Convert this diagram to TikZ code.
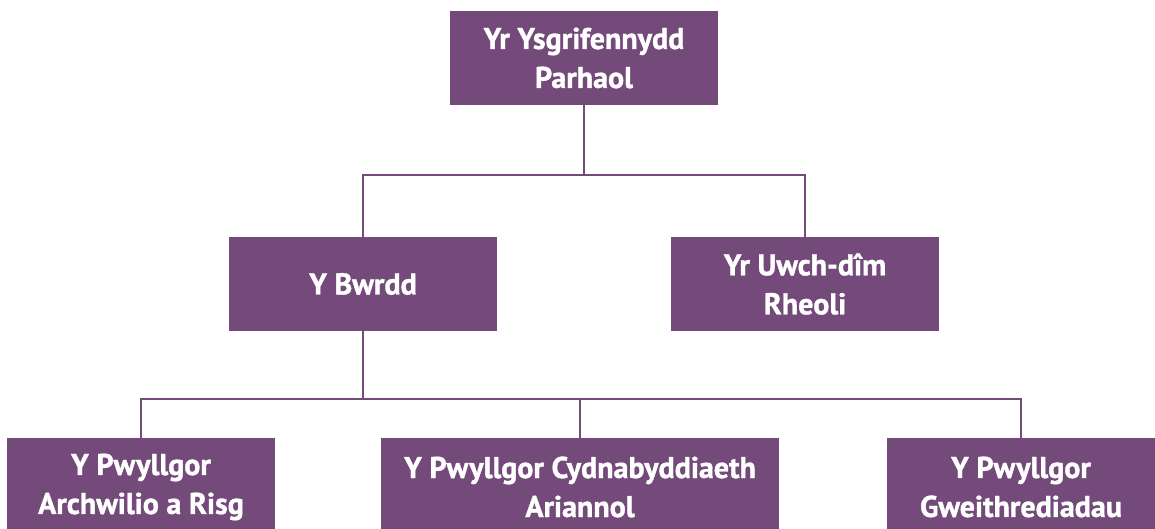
\documentclass[tikz,border=0pt]{standalone}
\usepackage{fontspec}
\setmainfont{PT Sans}[BoldFeatures={FakeBold=1.2}]
\definecolor{purp}{HTML}{734A7A}
\begin{document}
\begin{tikzpicture}[x=1pt,y=-1pt,
  box/.style={fill=purp,draw=none,text=white,font=\fontsize{30}{39}\selectfont\bfseries,align=center,inner sep=0pt},
  conn/.style={draw=purp,line width=2.4pt}]
\useasboundingbox (0,0) rectangle (1155,529);
\begin{scope}
\clip (0,0) rectangle (1155,529);
\node[box,minimum width=268,minimum height=94] (top) at (584,58) {Yr Ysgrifennydd\\Parhaol};
\node[box,minimum width=268,minimum height=94] (bw) at (363,284) {Y Bwrdd};
\node[box,minimum width=268,minimum height=94] (uw) at (805,284) {Yr Uwch-dîm\\Rheoli};
\node[box,minimum width=268,minimum height=110,anchor=north] (a) at (141,438) {};
\node[box,minimum width=398,minimum height=110,anchor=north] (c) at (580,438) {};
\node[box,minimum width=268,minimum height=110,anchor=north] (g) at (1021,438) {};
\node[box] (at) at (141,487) {Y Pwyllgor\\Archwilio a Risg};
\node[box] (ct) at (580,487) {Y Pwyllgor Cydnabyddiaeth\\Ariannol};
\node[box] (gt) at (1021,487) {Y Pwyllgor\\Gweithrediadau};
\coordinate (j1) at (584,175);
\coordinate (j2) at (363,399);
\draw[conn] (top.south) -- (j1);
\draw[conn] (j1) -| (bw.north);
\draw[conn] (j1) -| (uw.north);
\draw[conn] (bw.south) -- (j2);
\draw[conn] (j2) -| (a.north);
\draw[conn] (j2) -| (c.north);
\draw[conn] (j2) -| (g.north);
\end{scope}
\end{tikzpicture}
\end{document}
